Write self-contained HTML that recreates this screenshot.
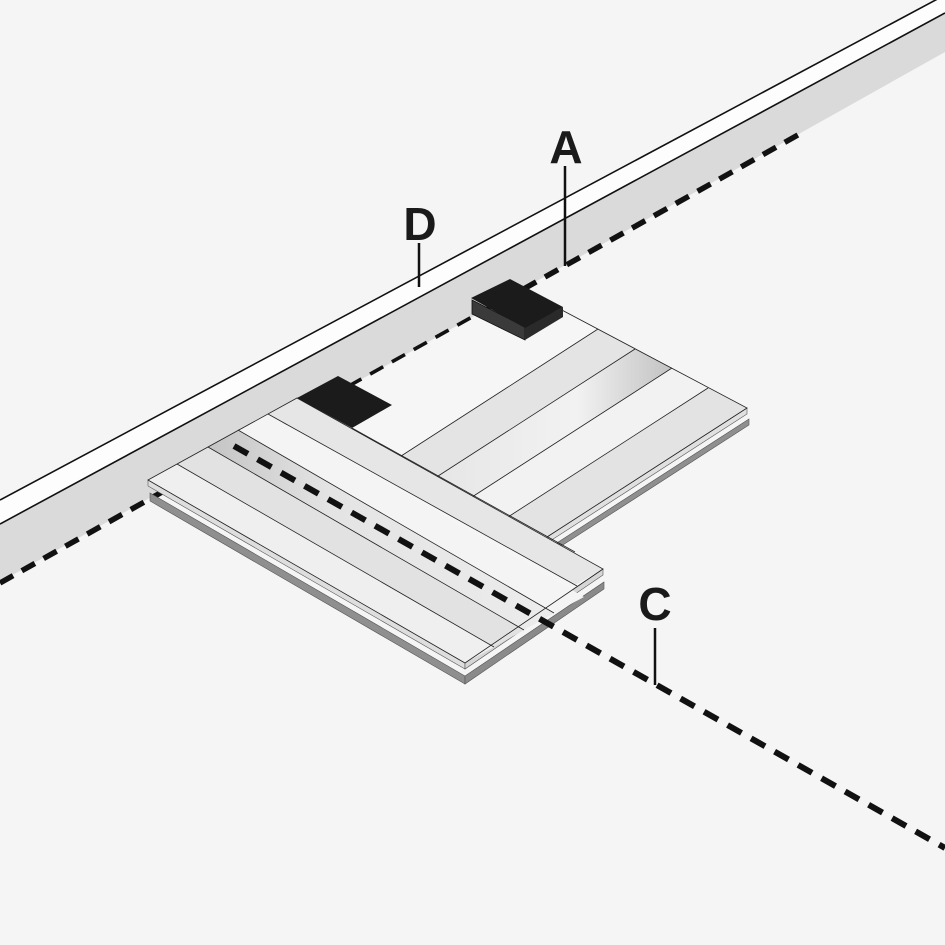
<!DOCTYPE html>
<html><head><meta charset="utf-8"><style>
html,body{margin:0;padding:0;background:#f5f5f5;}
svg{display:block;}
text{font-family:"Liberation Sans",sans-serif;font-weight:bold;font-size:46px;fill:#1a1a1a;}
</style></head><body>
<svg width="945" height="945" viewBox="0 0 945 945" xmlns="http://www.w3.org/2000/svg">
<defs>
<linearGradient id="g1" x1="0" y1="0" x2="1" y2="0">
<stop offset="0" stop-color="#c4c4c4"/><stop offset="0.35" stop-color="#e4e4e4"/><stop offset="1" stop-color="#ececec"/>
</linearGradient>
<linearGradient id="g2" x1="1" y1="0" x2="0" y2="0">
<stop offset="0" stop-color="#c2c2c2"/><stop offset="0.4" stop-color="#f2f2f2"/><stop offset="1" stop-color="#e6e6e6"/>
</linearGradient>
</defs>
<rect width="945" height="945" fill="#f5f5f5"/>
<!-- wall -->
<polygon points="0,500 945,-5 945,13 0,524" fill="#fdfdfd"/>
<polygon points="0,524 945,13 945,52 0,582" fill="#dadada"/>
<line x1="0" y1="500" x2="945" y2="-5" stroke="#111" stroke-width="1.6"/>
<line x1="0" y1="524" x2="945" y2="13" stroke="#111" stroke-width="1.6"/>
<line x1="0" y1="583" x2="805" y2="131" stroke="#111" stroke-width="5.5" stroke-dasharray="15,10"/>
<!-- back slab thickness -->
<polygon points="749,419 552,546 552,552 749,425" fill="#8f8f8f" stroke="#555" stroke-width="0.6"/>
<polygon points="747,408 547,537 547,543 747,414" fill="#e0e0e0" stroke="#555" stroke-width="0.6"/>
<!-- back slab strips -->
<polygon points="290,421 524,290 598,329 398,458" fill="#f6f6f6"/>
<polygon points="398,458 598,329 635,349 435,478" fill="#e4e4e4"/>
<polygon points="435,478 635,349 672,368 472,497" fill="url(#g2)"/>
<polygon points="472,497 672,368 708,388 508,517" fill="#f2f2f2"/>
<polygon points="508,517 708,388 747,408 547,537" fill="#e3e3e3"/>
<g stroke="#222" stroke-width="0.8" fill="none">
<polyline points="524,290 747,408 547,537"/>
<line x1="598" y1="329" x2="398" y2="458"/>
<line x1="635" y1="349" x2="435" y2="478"/>
<line x1="672" y1="368" x2="472" y2="497"/>
<line x1="708" y1="388" x2="508" y2="517"/>
</g>
<!-- block A -->
<polygon points="472,300 525,327 525,340 472,314" fill="#3a3a3a" stroke="#111" stroke-width="0.8"/>
<polygon points="525,327 563,307 563,317 525,340" fill="#2a2a2a"/>
<polygon points="471,298 510,279 563,307 525,328" fill="#1b1b1b"/>
<!-- front slab thickness -->
<polygon points="150,493 465,676 465,684 150,501" fill="#8f8f8f" stroke="#555" stroke-width="0.6"/>
<polygon points="465,676 604,582 604,589 465,684" fill="#8a8a8a" stroke="#555" stroke-width="0.6"/>
<polygon points="148,480 465,663 465,669 148,486" fill="#dedede" stroke="#555" stroke-width="0.6"/>
<polygon points="465,663 603,569 603,575 465,669" fill="#d6d6d6" stroke="#555" stroke-width="0.6"/>
<!-- front slab strips -->
<polygon points="148,480 177,464 494,647 465,663" fill="#efefef"/>
<polygon points="177,464 208,447 524,630 494,647" fill="#e2e2e2"/>
<polygon points="208,447 238,430 554,613 524,630" fill="url(#g1)"/>
<polygon points="238,430 268,414 584,597 554,613" fill="#f4f4f4"/>
<polygon points="268,414 297,398 603,569 575,585" fill="#e6e6e6"/>
<g stroke="#222" stroke-width="0.8" fill="none">
<polygon points="148,480 297,398 603,569 465,663"/>
<line x1="177" y1="464" x2="494" y2="647"/>
<line x1="208" y1="447" x2="524" y2="630"/>
<line x1="238" y1="430" x2="554" y2="613"/>
<line x1="268" y1="414" x2="577" y2="586"/>
<line x1="352" y1="428" x2="575" y2="552"/>
</g>
<!-- block D -->
<polygon points="297,398 338,376 392,405 352,428" fill="#1b1b1b"/>
<!-- dashed line C -->
<line x1="234" y1="446" x2="945" y2="848" stroke="#111" stroke-width="6" stroke-dasharray="16,11"/>
<!-- leaders -->
<line x1="565" y1="166" x2="565" y2="266" stroke="#111" stroke-width="2.5"/>
<line x1="419" y1="243" x2="419" y2="287" stroke="#111" stroke-width="2.5"/>
<line x1="655" y1="628" x2="655" y2="685" stroke="#111" stroke-width="2.5"/>
<text x="566" y="163" text-anchor="middle">A</text>
<text x="420" y="240" text-anchor="middle">D</text>
<text x="655" y="620" text-anchor="middle">C</text>
</svg>
</body></html>
